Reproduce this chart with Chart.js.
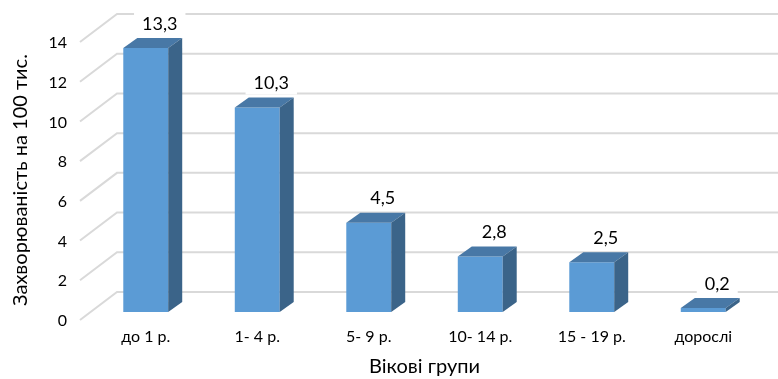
<!DOCTYPE html>
<html>
<head>
<meta charset="utf-8">
<script src="https://cdn.jsdelivr.net/npm/chart.js@4"></script>
<style>
  html, body { margin: 0; padding: 0; background: #fff; }
  #wrap { width: 778px; height: 379px; }
</style>
</head>
<body>
<div id="wrap"><canvas id="chart"></canvas></div>
<script>
const categories = ['до 1 р.', '1- 4 р.', '5- 9 р.', '10- 14 р.', '15 - 19 р.', 'дорослі'];
const values = [13.3, 10.3, 4.5, 2.8, 2.5, 0.2];
const yTitle = 'Захворюваність на 100 тис.';
const xTitle = 'Вікові групи';

const FONT = 'Lato, "Noto Sans", sans-serif';
const frontColor = '#5B9BD5';
const topColor = '#4878A6';
const sideColor = '#3B6489';
const gridColor = '#D9D9D9';

// depth of the bars and of the floor/wall
const DX = 14, DY = 10;

const bar3d = {
  id: 'bar3d',
  beforeDatasetsDraw(chart) {
    const { ctx, chartArea: a, scales: { y } } = chart;
    ctx.save();
    ctx.strokeStyle = gridColor;
    ctx.lineWidth = 2;
    y.ticks.forEach(t => {
      const py = y.getPixelForValue(t.value);
      ctx.beginPath();
      ctx.moveTo(a.left - 10, py + 8);
      ctx.lineTo(a.left + 27, py - 20);
      ctx.lineTo(chart.width + 10, py - 20);
      ctx.stroke();
    });
    ctx.restore();
  },
  afterDatasetsDraw(chart) {
    const { ctx } = chart;
    const meta = chart.getDatasetMeta(0);
    ctx.save();
    meta.data.forEach(bar => {
      const { x, y, base, width } = bar.getProps(['x', 'y', 'base', 'width'], true);
      const l = x - width / 2, r = x + width / 2;
      ctx.fillStyle = topColor;
      ctx.beginPath();
      ctx.moveTo(l, y);
      ctx.lineTo(l + DX, y - DY);
      ctx.lineTo(r + DX, y - DY);
      ctx.lineTo(r, y);
      ctx.closePath();
      ctx.fill();
      ctx.fillStyle = sideColor;
      ctx.beginPath();
      ctx.moveTo(r, y);
      ctx.lineTo(r + DX, y - DY);
      ctx.lineTo(r + DX, base - DY);
      ctx.lineTo(r, base);
      ctx.closePath();
      ctx.fill();
    });
    ctx.restore();
  },
  afterDraw(chart) {
    const { ctx } = chart;
    const meta = chart.getDatasetMeta(0);
    ctx.save();
    ctx.font = '18px ' + FONT;
    ctx.textAlign = 'center';
    ctx.textBaseline = 'middle';
    meta.data.forEach((bar, i) => {
      const { x, y } = bar.getProps(['x', 'y'], true);
      const txt = values[i].toFixed(1).replace('.', ',');
      const cx = x + DX, cy = y - DY - 14;
      const w = ctx.measureText(txt).width + 16;
      ctx.fillStyle = '#fff';
      ctx.fillRect(cx - w / 2, cy - 11, w, 22);
      ctx.fillStyle = '#000';
      ctx.fillText(txt, cx, cy);
    });
    // y axis title
    ctx.font = '20px ' + FONT;
    ctx.translate(21, 180);
    ctx.rotate(-Math.PI / 2);
    ctx.fillStyle = '#000';
    ctx.fillText(yTitle, 0, 0);
    ctx.restore();
  }
};

new Chart(document.getElementById('chart'), {
  type: 'bar',
  data: {
    labels: categories,
    datasets: [{
      data: values,
      backgroundColor: frontColor,
      borderWidth: 0,
      categoryPercentage: 1,
      barPercentage: 0.403
    }]
  },
  options: {
    responsive: true,
    maintainAspectRatio: false,
    animation: false,
    layout: { padding: { top: 34, right: 19, left: 0, bottom: 0 } },
    plugins: {
      legend: { display: false },
      tooltip: { enabled: false }
    },
    scales: {
      x: {
        grid: { display: false, drawTicks: false },
        border: { display: false },
        ticks: { color: '#000', font: { family: FONT, size: 16 }, padding: 15 },
        title: {
          display: true, text: xTitle, color: '#000',
          font: { family: FONT, size: 20 }, padding: { top: 0, bottom: 0 }
        },
        afterFit(scale) { scale.height = 67; }
      },
      y: {
        min: 0, max: 14,
        grid: { display: false, drawTicks: false },
        border: { display: false },
        ticks: { stepSize: 2, color: '#000', font: { family: FONT, size: 16 }, padding: 23, labelOffset: 9 },
        afterFit(scale) { scale.width = 90; }
      }
    }
  },
  plugins: [bar3d]
});
</script>
</body>
</html>
